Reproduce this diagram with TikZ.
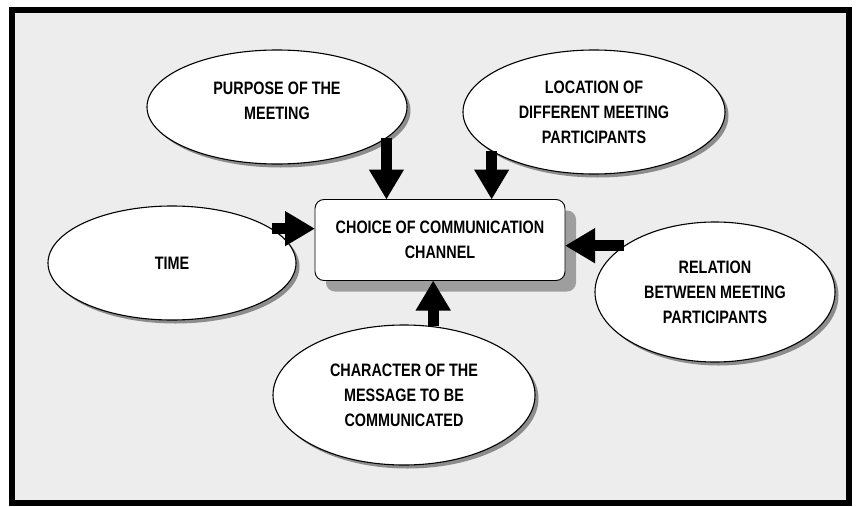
\documentclass[tikz,border=0pt]{standalone}
\usepackage{fontspec}
\setmainfont{Liberation Sans}[FakeStretch=0.8]
\usetikzlibrary{shapes.geometric,shadows,arrows.meta,calc}

\begin{document}
\begin{tikzpicture}[x=1pt,y=-1pt,
  factor/.style={ellipse, draw, line width=1.1pt, fill=white, inner sep=0pt, align=center,
    font=\fontsize{18}{25}\selectfont\bfseries,
    drop shadow={shadow xshift=3.5pt, shadow yshift=-3.5pt, fill=black!45, opacity=1}},
  channel/.style={rectangle, rounded corners=9pt, draw, line width=0.9pt, fill=white, outer sep=0pt,
    minimum width=250pt, minimum height=81pt, align=center,
    font=\fontsize{18}{25}\selectfont\bfseries,
    drop shadow={shadow xshift=11pt, shadow yshift=-11pt, fill=black!38, opacity=1}},
  push/.style={line width=11pt, -{Triangle[length=30pt,width=33pt]}}]
\useasboundingbox (0,0) rectangle (859,506);
\draw[line width=6pt, fill=black!7] (12,10) rectangle (849,503);
\node[channel] (box) at (440,240) {CHOICE OF COMMUNICATION\\CHANNEL};
\node[factor, minimum width=260pt, minimum height=114pt] (purpose) at (277,107) {PURPOSE OF THE\\MEETING\\[-13pt]};
\node[factor, minimum width=262pt, minimum height=124pt] (location) at (594,112) {LOCATION OF\\DIFFERENT MEETING\\PARTICIPANTS};
\node[factor, minimum width=248pt, minimum height=114pt] (time) at (172,263) {TIME};
\node[factor, minimum width=240pt, minimum height=140pt] (relation) at (715,292) {RELATION\\BETWEEN MEETING\\PARTICIPANTS};
\node[factor, minimum width=262pt, minimum height=140pt] (character) at (404,395) {CHARACTER OF THE\\MESSAGE TO BE\\COMMUNICATED};
% arrows into the channel box
\draw[push] (purpose.-16.5) -- (purpose.-16.5 |- box.north);
\draw[push] (location.-159.9) -- (location.-159.9 |- box.north);
\draw[push] (time.19.7) -- (time.19.7 -| box.west);
\draw[push] (relation.153.9) -- (relation.153.9 -| box.east);
\draw[push] (character.67.6) -- (character.67.6 |- box.south);
\end{tikzpicture}
\end{document}
